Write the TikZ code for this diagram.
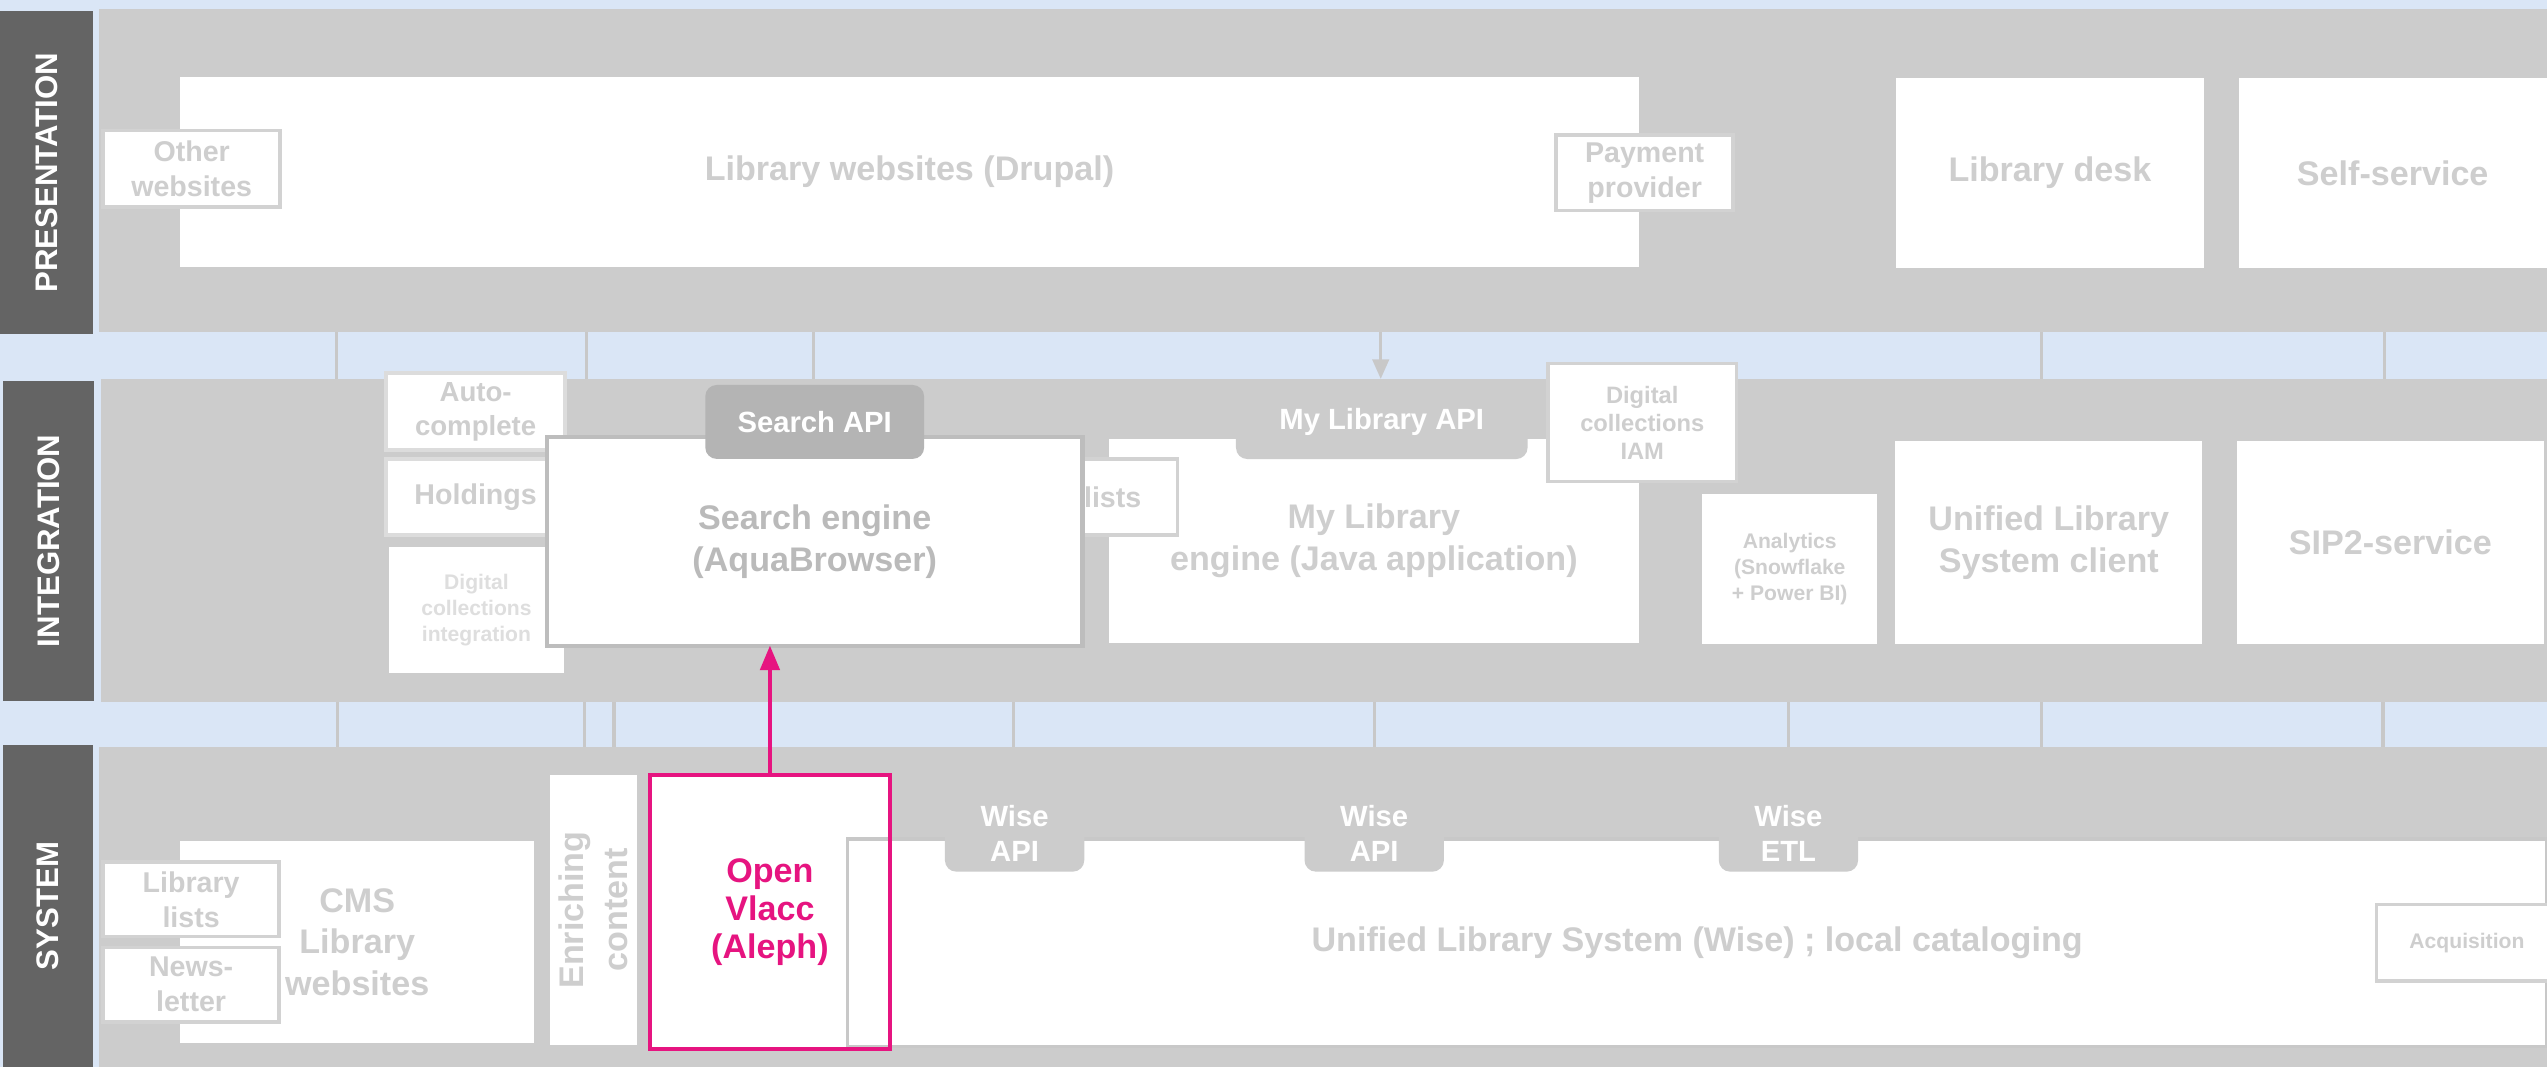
\documentclass[tikz,border=0pt]{standalone}
\usepackage{fontspec}
\setmainfont{Liberation Sans}
\usepackage{tikz}
\usetikzlibrary{shapes,arrows}
\usetikzlibrary{arrows.meta}

\definecolor{bgblue}{RGB}{218,230,246}
\definecolor{bandgrey}{RGB}{204,204,204}
\definecolor{labelgrey}{RGB}{100,100,100}
\definecolor{txtgrey}{RGB}{206,206,206}
\definecolor{paletext}{RGB}{222,222,222}
\definecolor{edgegrey}{RGB}{210,210,210}
\definecolor{lightedge}{RGB}{220,220,220}
\definecolor{searchedge}{RGB}{189,189,189}
\definecolor{searchtext}{RGB}{186,186,186}
\definecolor{apigrey}{RGB}{180,180,180}
\definecolor{linkgrey}{RGB}{200,200,200}
\definecolor{vlaccpink}{RGB}{230,20,128}

\begin{document}
\begin{tikzpicture}[x=1pt,y=-1pt,
	bandbox/.style={fill=bandgrey,inner sep=0pt,outer sep=0pt},
	layerbox/.style={fill=labelgrey,text=white,inner sep=0pt,outer sep=0pt,rotate=90,font=\bfseries\fontsize{19.2}{23}\selectfont},
	wbox/.style={fill=white,text=txtgrey,inner sep=0pt,outer sep=0pt,align=center,font=\bfseries\fontsize{21}{25.6}\selectfont},
	sbox/.style={wbox,draw=edgegrey,line width=2.2pt,font=\bfseries\fontsize{17.6}{21.5}\selectfont},
	smalltext/.style={font=\bfseries\fontsize{13}{15.9}\selectfont},
	apitab/.style={fill=bandgrey,text=white,rounded corners=7pt,inner sep=0pt,outer sep=0pt,align=center,font=\bfseries\fontsize{18}{21.6}\selectfont},
	linkline/.style={draw=linkgrey,line width=2pt},
	feedarrow/.style={draw=vlaccpink,line width=2pt,-{Triangle[width=12pt,length=15pt]}}
	]
	\fill[bgblue] (0,0) rectangle (1568,657);
	\useasboundingbox (0,0) rectangle (1568,657);
	
	\node[bandbox,minimum width=1507.3pt,minimum height=199.1pt] (presband) at (814.35,105.05) {};
	\node[bandbox,minimum width=1506pt,minimum height=199.1pt] (integband) at (815,332.85) {};
	\node[bandbox,minimum width=1507.3pt,minimum height=197.4pt] (sysband) at (814.35,558.3) {};
	\node[layerbox,minimum width=199pt,minimum height=57.4pt] (preslabel) at (28.7,106.3) {PRESENTATION};
	\node[layerbox,minimum width=196.8pt,minimum height=56pt] (integlabel) at (30,332.9) {INTEGRATION};
	\node[layerbox,minimum width=198.4pt,minimum height=55.7pt] (syslabel) at (29.5,557.8) {SYSTEM};
	
	\foreach \x in {207,361,501,1257,1468}
		\draw[linkline] (\x,0 |- presband.south) -- (\x,0 |- integband.north);
	\draw[linkline,-{Triangle[width=10pt,length=12pt]}] (850,0 |- presband.south) -- (850,0 |- integband.north);
	\foreach \x in {208,360,378,624,846,1101,1257,1467}
		\draw[linkline] (\x,0 |- integband.south) -- (\x,0 |- sysband.north);
	
	\node[wbox,minimum width=897.8pt,minimum height=116.6pt] (drupal) at (559.9,105.9) {Library websites (Drupal)};
	\node[sbox,minimum width=109pt,minimum height=47.2pt] (otherweb) at (118,104) {Other\\websites};
	\node[sbox,minimum width=109pt,minimum height=46.6pt] (payment) at (1012.5,106.4) {Payment\\provider};
	\node[wbox,minimum width=189.5pt,minimum height=116.6pt] (desk) at (1262,106.5) {Library desk};
	\node[wbox,minimum width=189.6pt,minimum height=116.6pt] (selfservice) at (1473,106.5) {Self-service};
	
	\node[sbox,draw=lightedge,line width=2.5pt,font=\bfseries\fontsize{17}{21}\selectfont,minimum width=110.4pt,minimum height=47.2pt] (autocomplete) at (292.8,253.4) {Auto-\\complete};
	\node[sbox,draw=lightedge,line width=2.5pt,minimum width=110.4pt,minimum height=46.6pt] (holdings) at (292.8,306.1) {Holdings};
	\node[wbox,smalltext,text=paletext,minimum width=107.4pt,minimum height=77pt] (digint) at (293.3,375.5) {Digital\\collections\\integration};
	\node[wbox,minimum width=326pt,minimum height=125.1pt] (mylib) at (845.8,333) {My Library\\engine (Java application)};
	\node[sbox,minimum width=80pt,minimum height=46.8pt] (lists) at (685,305.9) {lists};
	\node[apitab,minimum width=179.5pt,minimum height=45.6pt] (mylibapi) at (850.65,259.8) {My Library API};
	\node[sbox,font=\bfseries\fontsize{14.6}{17.2}\selectfont,minimum width=115.9pt,minimum height=72.8pt] (iam) at (1011,260.1) {Digital\\collections\\IAM};
	\node[wbox,draw=searchedge,line width=2.5pt,text=searchtext,minimum width=329.7pt,minimum height=128.3pt] (search) at (501.55,333.35) {Search engine\\(AquaBrowser)};
	\node[apitab,fill=apigrey,minimum width=134.7pt,minimum height=45.5pt] (searchapi) at (501.55,259.75) {Search API};
	\node[wbox,smalltext,minimum width=107.6pt,minimum height=92.1pt] (analytics) at (1101.8,350.35) {Analytics\\(Snowflake\\+ Power BI)};
	\node[wbox,minimum width=188.8pt,minimum height=124.9pt] (ulsclient) at (1261.3,333.95) {Unified Library\\System client};
	\node[wbox,minimum width=189pt,minimum height=124.9pt] (sip) at (1471.5,333.95) {SIP2-service};
	
	\node[wbox,minimum width=217.6pt,minimum height=124.6pt] (cms) at (219.9,580) {CMS\\Library\\websites};
	\node[sbox,minimum width=108.5pt,minimum height=45.8pt] (liblists) at (117.65,553.7) {Library\\lists};
	\node[sbox,minimum width=108.5pt,minimum height=45.8pt] (newsletter) at (117.65,606.1) {News-\\letter};
	\node[wbox,rotate=90,font=\bfseries\fontsize{21}{27}\selectfont,minimum width=166.2pt,minimum height=53.8pt] (enrich) at (365.3,560.2) {Enriching\\content};
	\node[wbox,text=vlaccpink,font=\bfseries\fontsize{21}{23.6}\selectfont,minimum width=147.8pt,minimum height=168.7pt] (vlacc) at (474,561.45) {Open\\Vlacc\\(Aleph)};
	\node[wbox,draw=linkgrey,line width=2pt,minimum width=1046.4pt,minimum height=127.8pt] (uls) at (1044.8,580.4) {Unified Library System (Wise) ; local cataloging};
	\node[apitab,minimum width=85.8pt,minimum height=46.6pt] (wiseapiA) at (624.6,513.3) {Wise\\API};
	\node[apitab,minimum width=85.8pt,minimum height=46.6pt] (wiseapiB) at (846,513.3) {Wise\\API};
	\node[apitab,minimum width=85.8pt,minimum height=46.6pt] (wiseetl) at (1101,513.3) {Wise\\ETL};
	\node[sbox,smalltext,minimum width=111.2pt,minimum height=47.2pt] (acq) at (1518.7,580.3) {Acquisition};
	\draw[vlaccpink,line width=2pt] (vlacc.south west) rectangle (vlacc.north east);
	
	\draw[feedarrow] (vlacc.north) -- (vlacc.north |- search.south);
\end{tikzpicture}
\end{document}
